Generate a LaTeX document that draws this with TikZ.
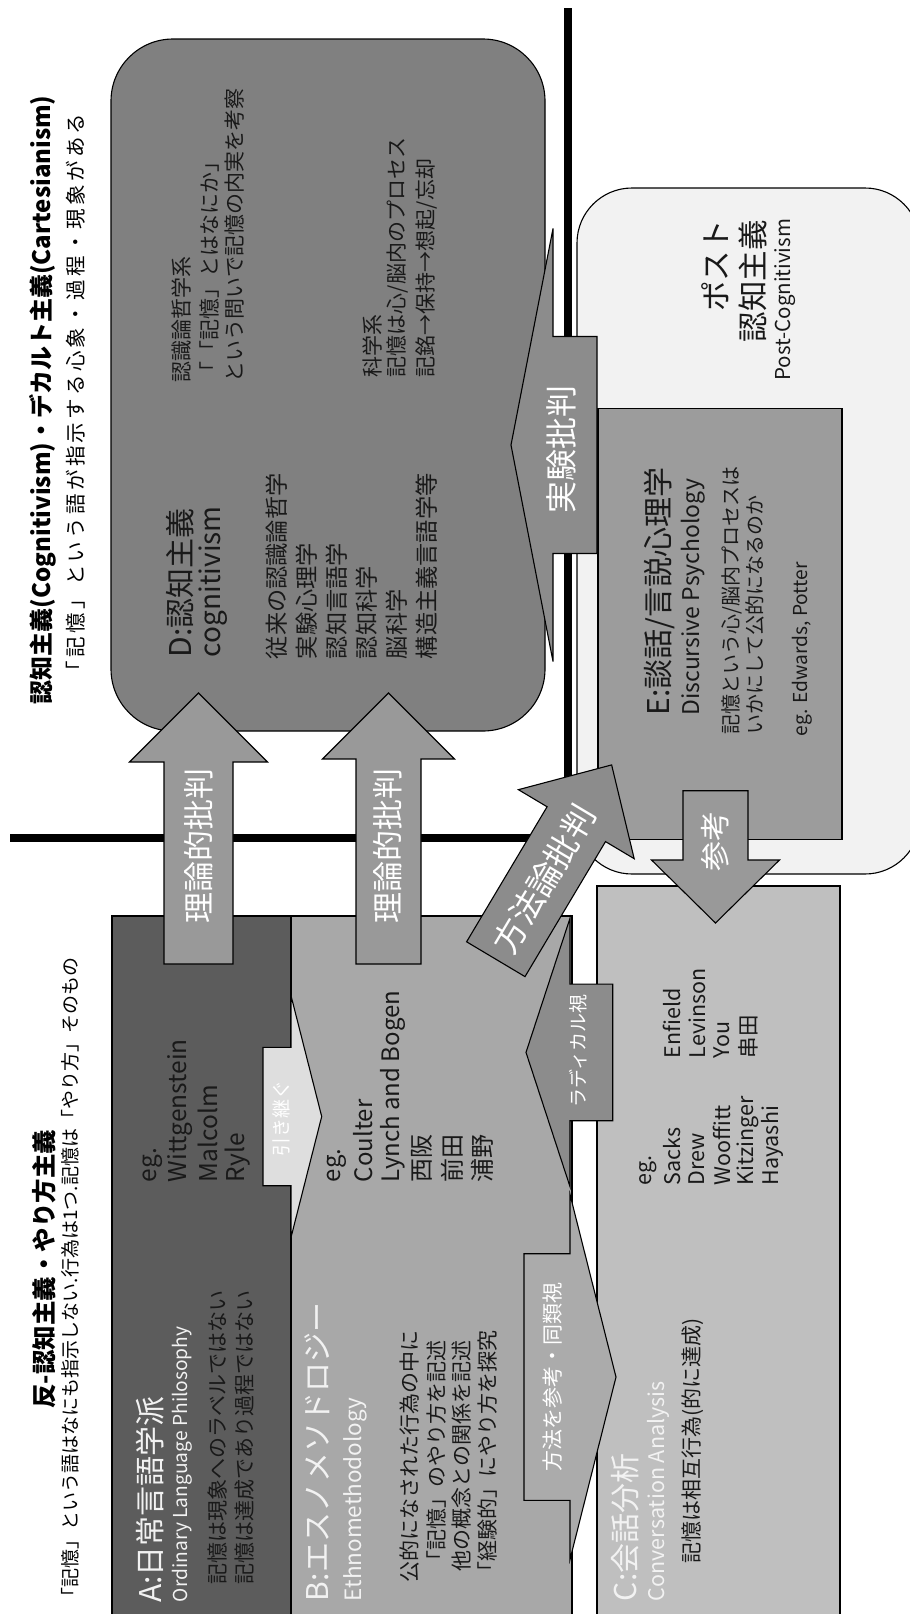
\documentclass[tikz,border=0pt]{standalone}
\usepackage{fontspec}
\setmainfont{Noto Sans CJK JP}
\usetikzlibrary{calc}
\definecolor{boxA}{gray}{0.36}
\definecolor{boxB}{gray}{0.66}
\definecolor{boxC}{gray}{0.75}
\definecolor{boxD}{gray}{0.50}
\definecolor{boxE}{gray}{0.61}
\definecolor{boxP}{gray}{0.95}
\definecolor{arrT}{gray}{0.60}
\definecolor{arrX}{gray}{0.55}
\definecolor{arrM}{gray}{0.67}
\definecolor{arrL}{gray}{0.87}
\definecolor{txtL}{gray}{0.95}
\definecolor{txtD}{gray}{0.10}
\tikzset{
  vt/.style={rotate=90, inner sep=0pt, outer sep=0pt, anchor=west},
  lt/.style={text=txtL},
  dt/.style={text=txtD},
  wt/.style={text=white},
  sz/.style={font=\fontsize{#1}{#1}\selectfont},
  bsz/.style={font=\fontsize{#1}{#1}\selectfont\bfseries},
  box/.style={draw=black, line width=1.1pt, inner sep=0pt, outer sep=0pt},
  barrow/.style={draw=black, line width=1.1pt, line join=miter},
  divider/.style={line width=8.5pt, line join=miter},
}
% #1 fill, #2 tail coordinate, #3 angle, #4 length, #5 head length, #6 body half width, #7 head half width
\newcommand\blockarrow[7]{\begin{scope}[shift={#2}, rotate=#3]
  \draw[barrow, fill=#1] (0,#6) -- ({#4-#5},#6) -- ({#4-#5},#7) -- (#4,0) -- ({#4-#5},-#7) -- ({#4-#5},-#6) -- (0,-#6) -- cycle;
\end{scope}}
\begin{document}
\begin{tikzpicture}[x=1pt,y=-1pt]
\useasboundingbox (0,0) rectangle (910,1614);
\fill[white] (0,0) rectangle (910,1614);

% divider lines
\coordinate (vtop) at (568,8);
\coordinate (cross) at (568,838);
\coordinate (hleft) at (10,838);
\draw[divider] (vtop) -- (cross) -- (hleft);

% boxes
\node[box, fill=boxD, rounded corners=62pt, minimum width=434pt, minimum height=692pt] (D) at (328,385) {};
\node[box, fill=boxP, rounded corners=55pt, minimum width=343pt, minimum height=686pt] (P) at (748.5,531) {};
\node[box, fill=boxE, minimum width=244pt, minimum height=431pt] (E) at (720,624.2) {};
\node[box, fill=boxA, minimum width=179pt, minimum height=714pt] (A) at (201.5,1273) {};
\node[box, fill=boxB, minimum width=281pt, minimum height=714pt] (B) at (431.5,1273) {};
\node[box, fill=boxC, minimum width=243pt, minimum height=744pt] (C) at (718.5,1258) {};

% titles
\node[vt, bsz=24, text=black] (titleR) at (43,704) {認知主義(Cognitivism)・デカルト主義(Cartesianism)};
\node[vt, sz=20.5, text=black] (subR) at (76,681) {\addfontfeatures{LetterSpace=16}「記憶」という語が指示する心象・過程・現象がある};
\node[vt, bsz=24.5, text=black] (titleL) at (44,1408.7) {反-認知主義・やり方主義};
\node[vt, sz=19, text=black] (subL) at (70,1606) {「記憶」という語はなにも指示しない.行為は1つ.記憶は「やり方」そのもの};

% D texts
\node[vt, sz=30, dt] (dLab) at (180,657) {D:認知主義};
\node[vt, sz=28, dt] (dEn) at (213,657) {cognitivism};
\foreach \t [count=\i from 0] in {従来の認識論哲学,実験心理学,認知言語学,認知科学,脳科学,構造主義言語学等}
  \node[vt, sz=23.2, dt] (dL\i) at ({277+30*\i},659) {\t};
\node[vt, sz=21, dt] (dR0) at (182,382) {認識論哲学系};
\node[vt, sz=21, dt] (dR1) at (210,382) {「「記憶」とはなにか」};
\node[vt, sz=21, dt] (dR2) at (235,382) {という問いで記憶の内実を考察};
\node[vt, sz=21, dt] (dS0) at (372,377) {科学系};
\node[vt, sz=21, dt] (dS1) at (398,377) {記憶は心/脳内のプロセス};
\node[vt, sz=21, dt] (dS2) at (427,377) {記銘→保持→想起/忘却};

% Post-cognitivism
\node[vt, anchor=east, sz=30.5, dt] (pc0) at (715,220) {ポスト};
\node[vt, anchor=east, sz=30.5, dt] (pc1) at (753,220) {認知主義};
\node[vt, anchor=east, sz=20.5, dt] (pc2) at (785,219) {Post-Cognitivism};

% E texts
\node[vt, sz=30, dt] (eLab) at (660,715.6) {E:談話/言説心理学};
\node[vt, sz=23, dt] (eEn) at (693,715.6) {Discursive Psychology};
\node[vt, sz=20, dt] (eT0) at (732,734.6) {記憶という心/脳内プロセスは};
\node[vt, sz=20, dt] (eT1) at (755,734.6) {いかにして公的になるのか};
\node[vt, sz=19.2, dt] (eEg) at (802,736) {eg. Edwards, Potter};

% A texts
\node[vt, sz=30, lt] (aLab) at (150,1602.8) {A:日常言語学派};
\node[vt, sz=19.2, lt] (aEn) at (182,1602) {Ordinary Language Philosophy};
\node[vt, sz=21, dt] (aT0) at (218,1584) {記憶は現象へのラベルではない};
\node[vt, sz=21, dt] (aT1) at (245,1584) {記憶は達成であり過程ではない};
\foreach \t/\x [count=\i] in {eg./153,Wittgenstein/180,Malcolm/208,Ryle/238}
  \node[vt, sz=24.5, dt] (aN\i) at (\x,1182) {\t};

% B texts
\node[vt, sz=30, lt] (bLab) at (317,1601) {B:エスノメソドロジー};
\node[vt, sz=22.5, lt] (bEn) at (355,1601) {Ethnomethodology};
\foreach \t/\x [count=\i] in {公的になされた行為の中に/410,「記憶」のやり方を記述/437,他の概念との関係を記述/462,「経験的」にやり方を探究/488}
  \node[vt, anchor=center, sz=21, dt] (bT\i) at (\x,1456) {\t};
\foreach \t/\x [count=\i] in {eg./337,Coulter/363,Lynch and Bogen/393,西阪/422,前田/452,浦野/482}
  \node[vt, sz=24, dt] (bN\i) at (\x,1182) {\t};

% C texts
\node[vt, sz=30, lt] (cLab) at (625,1601) {C:会話分析};
\node[vt, sz=21.5, lt] (cEn) at (658,1601) {Conversation Analysis};
\node[vt, sz=21, dt] (cT0) at (693,1563.6) {記憶は相互行為(的に達成)};
\foreach \t/\x [count=\i] in {eg./648,Sacks/672,Drew/697,Wooffitt/722,Kitzinger/748,Hayashi/772}
  \node[vt, sz=21.5, dt] (cN\i) at (\x,1185.6) {\t};
\foreach \t/\x [count=\i] in {Enfield/672,Levinson/697,You/722,串田/748}
  \node[vt, sz=21.5, dt] (cM\i) at (\x,1058) {\t};

% block arrows
\blockarrow{arrT}{(198.5,964)}{90}{271}{69}{34.5}{69}
\blockarrow{arrT}{(388.5,964)}{90}{271}{66}{32.5}{66}
\blockarrow{arrX}{(597,445)}{180}{86}{42}{108.5}{216.5}
\blockarrow{arrT}{(715.5,790.7)}{-90}{132.3}{63}{32.5}{64}
\blockarrow{arrX}{(495.8,959.2)}{59.2}{226.2}{69}{34}{67.4}
\blockarrow{arrX}{(612.7,1052.4)}{180}{86.7}{44}{68.3}{134.2}
\blockarrow{arrM}{(524,1377)}{0}{92}{46}{123.3}{182.5}
\blockarrow{arrL}{(263,1116.5)}{0}{58.7}{30.7}{69.2}{120.9}

% arrow labels
\node[vt, anchor=center, sz=31, wt] (lbT1) at (199,846) {理論的批判};
\node[vt, anchor=center, sz=31, wt] (lbT2) at (388,846) {理論的批判};
\node[vt, anchor=center, sz=32, wt] (lbX) at (561,449) {実験批判};
\node[vt, anchor=center, sz=30, wt] (lbS) at (715,841) {参考};
\node[rotate=59.2, inner sep=0pt, anchor=center, sz=33, wt] (lbM) at (544,879) {方法論批判};
\node[vt, anchor=center, sz=19, wt] (lbR) at (578,1051) {ラディカル視};
\node[vt, anchor=center, sz=21, wt] (lbH) at (553,1377) {方法を参考・同類視};
\node[vt, anchor=center, sz=19, wt] (lbK) at (281.7,1118) {引き継ぐ};
\end{tikzpicture}
\end{document}
